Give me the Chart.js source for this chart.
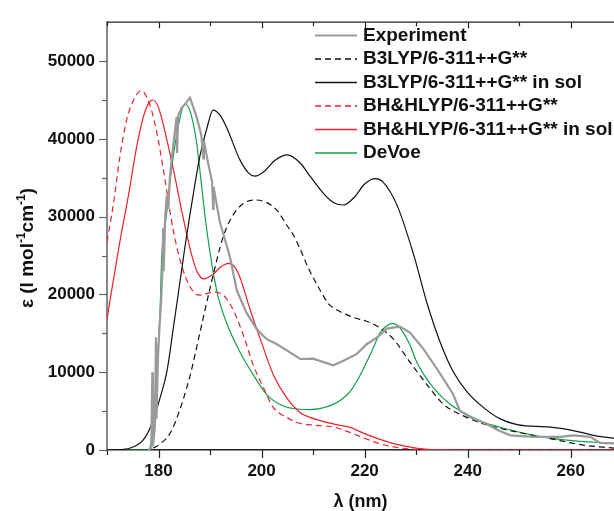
<!DOCTYPE html>
<html lang="en">
<head>
<meta charset="UTF-8">
<title>UV absorption spectra</title>
<script src="https://cdn.jsdelivr.net/npm/chart.js@4.4.1/dist/chart.umd.min.js"></script>
<style>
  body { margin: 0; background: #fff; }
  #wrap { width: 614px; height: 511px; }
</style>
</head>
<body>
<div id="wrap"><canvas id="spectra" width="614" height="511"></canvas></div>
<script>
// wavelength (nm) / epsilon values
const expX = [178, 178.6, 178.8, 178.9, 179.3, 179.5, 179.6, 179.9, 180.2, 180.5, 180.8, 180.9, 181.0, 181.3, 181.6, 181.9, 182.2, 182.6, 183.0, 183.5, 183.6, 183.8, 184.5, 185.2, 186.1, 187.4, 188.3, 188.7, 188.8, 189.5, 190.4, 190.6, 190.7, 191.9, 193.0, 193.9, 195.2, 197.1, 199.1, 201, 203, 204.9, 207.5, 210, 213.9, 216, 218.5, 220.4, 222.4, 224.3, 226.9, 228.8, 231.4, 234, 236, 236.4, 237.2, 238.5, 240.5, 243.7, 246, 248.3, 252.8, 258, 260.5, 263.8, 265.7, 268.4];
const expY = [0, 300, 10000, 500, 3000, 14500, 4000, 12000, 16000, 19000, 24000, 28500, 23000, 30000, 32700, 31000, 35000, 37700, 40000, 42800, 38200, 43000, 44000, 44500, 45300, 42800, 40500, 37500, 39800, 37300, 34500, 31000, 33800, 29300, 26800, 24700, 20500, 17600, 15500, 14250, 13600, 12800, 11700, 11740, 10900, 11500, 12360, 13600, 14460, 15600, 15850, 15100, 13000, 10480, 8400, 8000, 7130, 5030, 4200, 3350, 2500, 1890, 1680, 1680, 1890, 1680, 920, 840];

const b3X = [179, 180, 182.2, 183.5, 186.1, 188.1, 190, 192.6, 195.2, 198.7, 201, 203, 205, 206.2, 207.5, 209, 211.4, 213, 215.2, 218, 220.4, 223, 225.6, 228.8, 232.1, 235.3, 238.5, 243.1, 249.6, 256, 262.4, 268.4];
const b3Y = [250, 630, 2100, 4000, 9500, 15300, 20800, 27500, 30900, 32150, 31800, 30800, 28800, 27600, 25800, 23500, 20500, 18800, 17800, 17000, 16550, 15700, 14250, 11300, 8400, 5870, 4600, 3350, 2300, 1470, 630, 250];

const b3SolX = [170, 172, 174.5, 177, 178.7, 180.3, 181.6, 182.9, 184.2, 185.1, 186.1, 187.4, 188.1, 189.4, 190.6, 192, 193.2, 195.8, 197.5, 198.7, 200.5, 202.5, 205, 207.5, 209.4, 212, 214, 215.9, 218, 220, 222, 223.5, 226.3, 229.5, 232.1, 234.7, 237.2, 239.8, 243.1, 246.3, 249.6, 256, 260.5, 264.4, 268.4];
const b3SolY = [0, 20, 250, 1260, 3350, 6700, 10000, 15800, 21800, 26000, 30300, 35500, 38000, 41400, 43700, 43000, 41500, 37300, 35600, 35200, 35800, 37200, 37950, 36900, 35200, 33000, 31800, 31500, 32500, 34200, 34900, 34500, 31450, 25150, 18900, 13800, 10060, 7550, 5450, 4000, 3270, 2930, 2500, 1890, 1500];

const bhX = [170, 171.2, 172.5, 173.8, 175.1, 176.6, 178.3, 179.7, 180.9, 182.9, 184.8, 186.8, 188.1, 190.6, 192.6, 194.5, 196.5, 198.4, 200.4, 202.3, 204.9, 207, 210, 214, 217, 220, 223, 227, 232, 240, 268.4];
const bhY = [26800, 31450, 37700, 42400, 44900, 46200, 44400, 40700, 36200, 28100, 23050, 20300, 19900, 20300, 19900, 18000, 14700, 10900, 7960, 5450, 4200, 3500, 3200, 2950, 2300, 1500, 800, 250, 50, 0, 0];

const bhSolX = [170, 170.6, 172.5, 174.5, 175.1, 176, 177, 178, 178.9, 179.9, 180.9, 182.9, 184.8, 186.4, 187.5, 188.8, 190.6, 192, 193.6, 194.8, 195.8, 197.8, 200, 202.3, 204.9, 207.5, 209.4, 213.9, 217.2, 220, 222.4, 226.9, 233, 240, 268.4];
const bhSolY = [16800, 19300, 26800, 34000, 36500, 39800, 42700, 44500, 45000, 44200, 41900, 36000, 29800, 25150, 22900, 22000, 22600, 23500, 24000, 23500, 22200, 18000, 13800, 9650, 6700, 4800, 4200, 3350, 2900, 2100, 1500, 630, 50, 0, 0];

const devoeX = [170, 178, 178.5, 179, 179.6, 180, 180.3, 180.6, 181.6, 182.6, 184.2, 185.1, 186.1, 187.4, 188.1, 189.4, 191.3, 193.2, 195.8, 198.4, 201, 204.2, 207.5, 209.4, 211.5, 213.9, 215.5, 217.2, 218.8, 220.4, 221.8, 223, 224.2, 225.3, 226.4, 227.5, 228.8, 230.1, 231.7, 233.4, 236.6, 239.8, 243, 246.3, 252.8, 259.2, 268.4];
const devoeY = [0, 0, 800, 3770, 9500, 14000, 18000, 24500, 30600, 36500, 42800, 44450, 43600, 39500, 35500, 28100, 20500, 16350, 12600, 9650, 7130, 5660, 5240, 5200, 5350, 5870, 6500, 7550, 9200, 11300, 13300, 15100, 15900, 16270, 16000, 15100, 13500, 11300, 9500, 7960, 5870, 4600, 3600, 2930, 1890, 1260, 840];

const xTicks = [170, 180, 190, 200, 210, 220, 230, 240, 250, 260];
const xTickLabels = [180, 200, 220, 240, 260];
const yTicks = [0, 5000, 10000, 15000, 20000, 25000, 30000, 35000, 40000, 45000, 50000];
const yTickLabels = [0, 10000, 20000, 30000, 40000, 50000];

const FONT = '"Liberation Sans", Arial, sans-serif';

function pts(xs, ys) {
  return xs.map((v, i) => ({ x: v, y: ys[i] }));
}

// ticks, top frame line, legend and axis titles
const extras = {
  id: 'extras',
  afterDraw(chart) {
    const { ctx, chartArea: a, scales: { x, y } } = chart;
    ctx.save();
    ctx.strokeStyle = '#222';
    ctx.lineWidth = 1.2;
    // top line
    ctx.beginPath();
    ctx.moveTo(a.left, a.top);
    ctx.lineTo(a.right, a.top);
    ctx.stroke();
    xTicks.forEach(v => {
      const px = Math.round(x.getPixelForValue(v)) + 0.5;
      const major = xTickLabels.includes(v);
      ctx.beginPath();
      ctx.moveTo(px, a.bottom);
      ctx.lineTo(px, a.bottom + (major ? 8 : 5));
      ctx.moveTo(px, a.top);
      ctx.lineTo(px, a.top + (major ? 6 : 4));
      ctx.stroke();
    });
    ctx.strokeStyle = '#666';
    yTicks.forEach(v => {
      const py = Math.round(y.getPixelForValue(v)) + 0.5;
      const major = yTickLabels.includes(v);
      ctx.beginPath();
      ctx.moveTo(a.left, py);
      ctx.lineTo(a.left - (major ? 8 : 5), py);
      ctx.stroke();
    });

    // legend
    ctx.font = 'bold 19px ' + FONT;
    ctx.textBaseline = 'middle';
    ctx.textAlign = 'left';
    chart.data.datasets.forEach((ds, i) => {
      const opts = chart.getDatasetMeta(i).dataset.options;
      const ly = 35.5 + i * 23.5;
      ctx.strokeStyle = opts.borderColor;
      ctx.lineWidth = Math.max(opts.borderWidth, 1.5);
      ctx.setLineDash(opts.borderDash || []);
      ctx.beginPath();
      ctx.moveTo(315, ly);
      ctx.lineTo(357, ly);
      ctx.stroke();
      ctx.setLineDash([]);
      ctx.fillStyle = '#111';
      ctx.fillText(ds.label, 363, ly);
    });

    // x title
    ctx.font = 'bold 18px ' + FONT;
    ctx.textAlign = 'center';
    ctx.fillText('λ (nm)', (a.left + a.right) / 2, 502);

    // y title with superscripts
    const parts = [['ε (l mol', false], ['-1', true], ['cm', false], ['-1', true], [')', false]];
    const big = 'bold 19px ' + FONT, small = 'bold 12px ' + FONT;
    let w = 0;
    parts.forEach(p => { ctx.font = p[1] ? small : big; w += ctx.measureText(p[0]).width; });
    ctx.translate(33, 248);
    ctx.rotate(-Math.PI / 2);
    ctx.textAlign = 'left';
    ctx.textBaseline = 'alphabetic';
    let cx = -w / 2;
    parts.forEach(p => {
      ctx.font = p[1] ? small : big;
      ctx.fillText(p[0], cx, p[1] ? -8 : 0);
      cx += ctx.measureText(p[0]).width;
    });
    ctx.restore();
  }
};

const line = { pointRadius: 0, fill: false, cubicInterpolationMode: 'monotone' };

new Chart(document.getElementById('spectra'), {
  type: 'line',
  data: {
    datasets: [
      { label: 'Experiment', data: pts(expX, expY), borderColor: '#9a9a9a', borderWidth: 2.2, pointRadius: 0, tension: 0 },
      Object.assign({ label: 'B3LYP/6-311++G**', data: pts(b3X, b3Y), borderColor: '#111', borderWidth: 1.2, borderDash: [6, 4] }, line),
      Object.assign({ label: 'B3LYP/6-311++G** in sol', data: pts(b3SolX, b3SolY), borderColor: '#111', borderWidth: 1.2 }, line),
      Object.assign({ label: 'BH&HLYP/6-311++G**', data: pts(bhX, bhY), borderColor: '#e8232b', borderWidth: 1.2, borderDash: [6, 4] }, line),
      Object.assign({ label: 'BH&HLYP/6-311++G** in sol', data: pts(bhSolX, bhSolY), borderColor: '#e8232b', borderWidth: 1.2 }, line),
      Object.assign({ label: 'DeVoe', data: pts(devoeX, devoeY), borderColor: '#13a04a', borderWidth: 1.2 }, line)
    ]
  },
  options: {
    responsive: false,
    animation: false,
    devicePixelRatio: 1,
    layout: { padding: { top: 13, right: 0, left: 0, bottom: 0 } },
    plugins: { legend: { display: false }, tooltip: { enabled: false } },
    scales: {
      x: {
        type: 'linear',
        min: 170,
        max: 268.4,
        afterBuildTicks: s => { s.ticks = xTicks.map(v => ({ value: v })); },
        afterFit: s => { s.height = 61; },
        grid: { drawOnChartArea: false, drawTicks: false },
        border: { color: '#222', width: 1.5 },
        ticks: {
          autoSkip: false, maxRotation: 0, padding: 11, color: '#111',
          font: { family: FONT, size: 17, weight: 'bold' },
          callback: v => xTickLabels.includes(v) ? String(v) : ''
        }
      },
      y: {
        min: 0,
        max: 55000,
        afterBuildTicks: s => { s.ticks = yTicks.map(v => ({ value: v })); },
        afterFit: s => { s.width = 107; },
        grid: { drawOnChartArea: false, drawTicks: false },
        border: { color: '#888', width: 2 },
        ticks: {
          padding: 12, color: '#111',
          font: { family: FONT, size: 17, weight: 'bold' },
          callback: v => yTickLabels.includes(v) ? String(v) : ''
        }
      }
    }
  },
  plugins: [extras]
});
</script>
</body>
</html>
